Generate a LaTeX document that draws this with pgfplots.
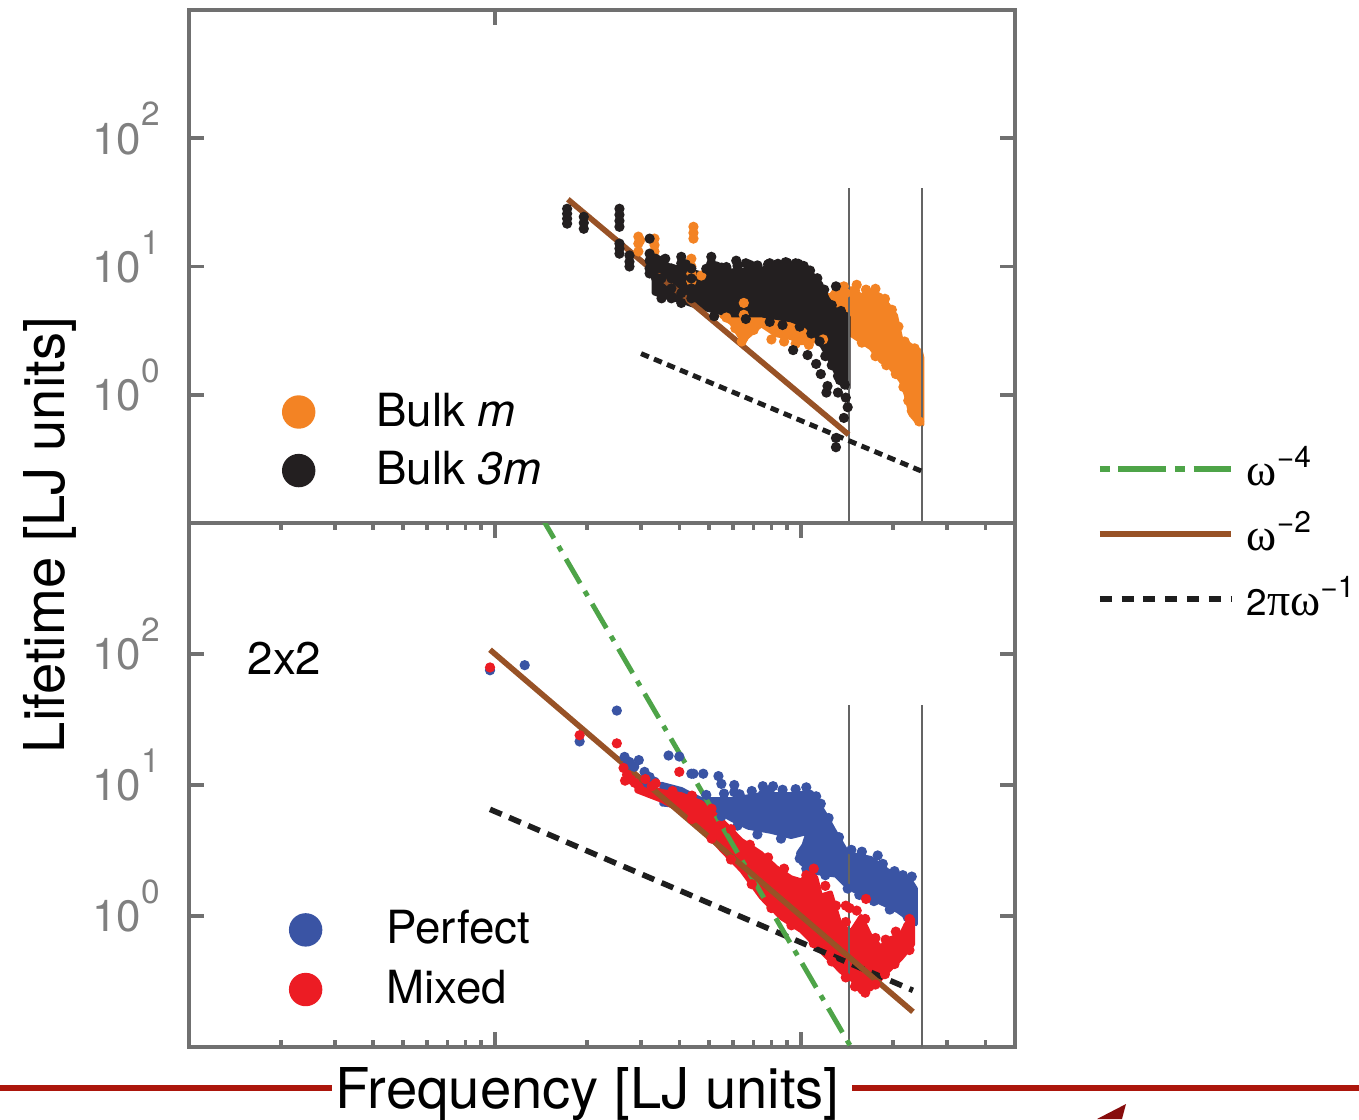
\documentclass[border=0pt]{standalone}
\usepackage{fontspec}
\setmainfont{TeX Gyre Heros}
\newfontfamily\grk{Liberation Serif}
\usepackage{pgfplots}
\pgfplotsset{compat=1.18}

\definecolor{axgray}{RGB}{112,112,112}
\definecolor{labgray}{RGB}{128,128,128}
\definecolor{vgray}{RGB}{100,100,100}
\definecolor{bulkm}{RGB}{243,131,36}
\definecolor{bulkthree}{RGB}{35,31,32}
\definecolor{perfect}{RGB}{58,84,164}
\definecolor{mixed}{RGB}{236,28,36}
\definecolor{brownline}{RGB}{152,82,38}
\definecolor{greenline}{RGB}{78,164,72}
\definecolor{dashblack}{RGB}{30,30,30}
\definecolor{barred}{RGB}{172,22,12}
\definecolor{tipred}{RGB}{135,12,12}

% tick label 10^n in text font
\newcommand{\tl}[1]{10\raisebox{8pt}{\fontsize{9.5}{10}\selectfont #1}}
\newcommand{\sx}[1]{\raisebox{5pt}{\fontsize{8.5}{9}\selectfont #1}}
\newcommand{\om}{{\grk\fontsize{13}{14}\selectfont ω}}
\newcommand{\pii}{{\grk\fontsize{13}{14}\selectfont π}}

\pgfplotsset{
  ptdots/.style={only marks, mark=*, mark size=1.25pt, color=#1, forget plot},
  ptcloud/.style={fill=#1, draw=#1, line width=1.2pt, line join=round, mark=none, forget plot},
  fitline/.style={line width=1.6pt, mark=none, forget plot},
}

\begin{document}
\begin{tikzpicture}

% ---------------- top panel: bulk ----------------
\begin{axis}[
  at={(1.89cm,-5.23cm)}, anchor=south west,
  xmode=log, ymode=log, scale only axis, width=8.26cm, height=5.13cm,
  xmin=0.1, xmax=50, ymin=0.1, ymax=1000,
  axis line style={axgray, line width=1.1pt},
  tick style={axgray, line width=1pt},
  major tick length=0.15cm, minor tick length=0.07cm,
  ytick={1,10,100}, yminorticks=false,
  yticklabels={\tl{0},\tl{1},\tl{2}},
  yticklabel style={font=\fontsize{12.5}{14}\selectfont, text=labgray,
    anchor=base east, yshift=-4.5pt, xshift=-0.17cm},
  xtick={1}, xminorticks=false, xtick pos=right, xticklabels={},
  legend cell align=left,
  legend image code/.code={\fill[#1] (0.16cm,0cm) circle (0.16cm);},
  legend style={at={(axis description cs:0.1126,0.254)}, anchor=north west,
    draw=none, fill=none, inner sep=0pt, outer sep=0pt, row sep=0.20cm,
    nodes={inner sep=0pt}, font=\fontsize{13}{15}\selectfont,
    /tikz/every odd column/.append style={column sep=0.61cm}},
]
\addlegendimage{bulkm}\addlegendentry{Bulk \textit{m}}
\addlegendimage{bulkthree}\addlegendentry{Bulk \textit{3m}}

% Bulk m
\addplot[ptcloud=bulkm] coordinates {
 (5.49,5.65) (10.0,6.18) (12.5,5.96) (13.0,6.75) (14.6,6.75) (15.7,5.96)
 (16.9,6.40) (18.2,5.96) (19.3,4.99) (20.4,4.17) (21.2,2.77) (22.8,2.44)
 (24.6,2.19) (24.9,1.94) (24.9,0.585) (23.7,0.629) (22.8,0.70) (22.0,1.0)
 (21.2,1.28) (19.6,1.62) (18.2,1.83) (16.9,2.31) (14.6,2.92) (13.0,3.02)
 (11.2,2.62) (10.0,2.53) (9.28,2.77) (8.29,2.92) (7.41,3.49) (6.62,2.77)
 (6.28,2.87) (5.92,3.61) (5.49,4.10)} -- cycle;
\addplot[ptdots=bulkm] coordinates {
 (2.94,17.1) (2.94,15.1) (2.94,13.1) (2.98,16.0)
 (3.32,16.5) (3.32,14.7) (3.32,13.1)
 (4.45,20.4) (4.45,18.3) (4.45,16.5)
 (4.38,11.5) (4.38,10.0) (4.38,8.8) (4.38,7.65) (4.72,8.5)
 (6.5,5.2) (6.5,4.2) (6.5,3.4) (6.5,2.8) (5.7,4.0) (6.1,3.3)
 (15.0,6.5) (14.0,6.2)
 (13.8,7.0) (15.2,7.2) (16.3,6.6) (17.5,6.7) (18.8,5.6) (19.8,4.6)
 (20.8,3.4) (21.8,2.6) (23.5,2.3) (24.3,0.62) (23.0,0.75) (22.4,0.9)
 (21.6,1.15) (20.4,1.45) (19.0,1.7) (17.5,2.0) (15.8,2.55)
 (8.0,2.7) (8.8,2.6) (9.6,2.5) (10.6,2.45) (11.8,2.7) (7.0,3.2) (6.4,2.6)};

% Bulk 3m
\addplot[ptcloud=bulkthree] coordinates {
 (3.3,10.9) (3.50,10.6) (4.06,9.65) (4.72,8.83) (5.92,9.31) (7.41,9.65)
 (9.28,10.0) (10.4,9.65) (10.9,8.67) (11.6,7.38) (12.2,5.65) (13.0,4.56)
 (14.1,4.24) (14.3,4.0) (14.3,1.13) (13.7,1.17) (13.0,1.48) (12.3,1.94)
 (11.8,2.31) (11.2,2.87) (10.4,3.43) (9.28,3.81) (7.41,4.17) (5.92,4.17)
 (4.72,4.72) (4.06,5.35) (3.50,5.9) (3.3,6.2)} -- cycle;
\addplot[ptdots=bulkthree] coordinates {
 (1.72,28.2) (1.72,25.8) (1.72,23.6) (1.72,21.6)
 (1.95,24.4) (1.95,21.9) (1.95,19.7)
 (2.55,28.2) (2.55,25.3) (2.55,22.7) (2.55,20.4) (2.55,15.1) (2.55,13.8) (2.55,12.6)
 (2.75,12.2) (2.75,10.9) (2.75,10.0)
 (3.20,16.5) (3.20,12.6) (3.20,11.1) (3.20,9.65) (3.20,8.83)
 (3.35,11.5) (3.35,9.6) (3.35,8.2)
 (3.50,11.1) (3.50,9.65) (3.50,8.07) (3.50,6.75) (3.50,5.65)
 (3.77,9.65) (3.77,8.07) (3.77,6.75) (3.77,5.65)
 (4.06,11.9) (4.06,10.6) (4.06,9.0) (4.06,7.4) (4.06,6.2) (4.06,5.2)
 (4.38,9.65) (4.38,8.07) (4.38,6.75) (4.38,5.65)
 (5.09,11.9) (5.09,10.6) (5.09,9.65) (6.14,11.1)
 (6.6,10.6) (8.9,10.8) (7.8,10.4) (9.8,10.5) (5.5,9.8) (13.0,7.0)
 (3.6,11.5) (4.2,10.4) (4.9,9.6) (5.3,10.0) (5.7,9.9) (6.2,10.1) (6.8,10.3)
 (7.2,10.2) (7.9,10.6) (8.4,10.5) (9.0,10.7) (9.6,10.6) (10.2,10.1)
 (10.7,9.3) (11.3,8.1) (11.9,6.6) (12.6,5.0) (13.5,4.5)
 (5.2,4.1) (6.6,3.9) (7.9,3.7) (8.7,3.5) (9.9,3.4) (10.8,3.0) (11.5,2.6)
 (12.0,2.0) (12.6,1.7) (13.4,1.3) (13.9,1.2)
 (9.42,2.23) (10.5,2.04) (11.2,1.74) (11.6,1.45) (12.2,1.17) (12.1,1.04)
 (13.2,1.40) (13.2,1.04) (13.0,0.46) (13.0,0.39) (14.0,0.95) (13.8,0.66) (14.2,0.8)};

\addplot[vgray, line width=0.6pt, forget plot] coordinates {(14.3,0.1) (14.3,41)};
\addplot[vgray, line width=0.6pt, forget plot] coordinates {(24.9,0.1) (24.9,41)};
\addplot[fitline, dashblack, line width=1.4pt, dash pattern=on 2.4pt off 1.6pt] coordinates {(3.0,2.094) (24.9,0.2523)};
\addplot[fitline, brownline] coordinates {(1.73,33.4) (14.3,0.489)};
\end{axis}

% ---------------- bottom panel: 2x2 ----------------
\begin{axis}[
  at={(1.89cm,-5.23cm)}, anchor=north west,
  xmode=log, ymode=log, scale only axis, width=8.26cm, height=5.24cm,
  xmin=0.1, xmax=50, ymin=0.1, ymax=1000,
  axis line style={axgray, line width=1.1pt},
  tick style={axgray, line width=1pt},
  major tick length=0.15cm, minor tick length=0.07cm,
  ytick={1,10,100}, yminorticks=false,
  yticklabels={\tl{0},\tl{1},\tl{2}},
  yticklabel style={font=\fontsize{12.5}{14}\selectfont, text=labgray,
    anchor=base east, yshift=-4.5pt, xshift=-0.17cm},
  xtick={0.1,1,10}, xticklabels={},
  minor xtick={0.2,0.3,0.4,0.5,0.6,0.7,0.8,0.9,2,3,4,5,6,7,8,9,20,30,40},
  legend cell align=left,
  legend image code/.code={\fill[#1] (0.16cm,0cm) circle (0.16cm);},
  legend style={at={(axis description cs:0.121,0.2605)}, anchor=north west,
    draw=none, fill=none, inner sep=0pt, outer sep=0pt, row sep=0.21cm,
    nodes={inner sep=0pt}, font=\fontsize{13}{15}\selectfont,
    /tikz/every odd column/.append style={column sep=0.64cm}},
]
\addlegendimage{perfect}\addlegendentry{Perfect}
\addlegendimage{mixed}\addlegendentry{Mixed}

% Perfect
\addplot[ptcloud=perfect] coordinates {
 (3.50,10.2) (4.06,9.31) (4.72,7.79) (5.92,7.79) (7.41,8.51) (9.28,8.51)
 (10.8,8.83) (11.9,6.18) (12.8,4.56) (14.2,3.02) (16.9,2.77) (19.2,2.23)
 (22.8,1.87) (23.7,1.62) (23.7,0.867) (20.7,1.09) (18.2,1.26) (16.5,1.38)
 (14.9,1.56) (13.8,1.77) (13.0,2.04) (11.0,2.15) (10.0,2.53) (9.78,3.02)
 (10.2,3.49) (10.5,4.32) (9.28,4.02) (7.98,4.40) (6.72,4.73) (5.92,5.45)
 (5.21,6.51) (4.72,6.88) (4.06,6.88) (3.50,7.12)} -- cycle;
\addplot[ptdots=perfect] coordinates {
 (0.963,75.2) (1.25,82.2) (1.89,21.5) (2.50,37)
 (2.65,16.4) (2.75,15.0) (2.85,13.8) (2.95,15.5) (2.70,14.2)
 (3.69,16.8) (4.00,16.5) (4.45,12.2) (4.79,12.2) (5.37,11.7) (4.38,12.2)
 (3.08,12.6) (3.20,11.5) (3.32,10.6) (3.15,10.4)
 (5.49,10.2) (6.05,10.0) (7.5,9.8) (8.1,9.8) (6.05,8.83) (7.5,8.5)
 (4.9,8.4) (5.6,8.6) (6.3,8.5) (6.9,9.0) (7.9,9.1) (8.7,9.2) (9.6,9.3)
 (10.4,9.6) (11.2,8.2) (11.6,7.2) (12.3,5.6) (13.3,4.0) (14.6,3.2)
 (15.8,3.1) (17.8,2.9) (18.5,2.5) (20.2,2.2) (21.5,2.05) (23.0,2.0)
 (22.3,0.98) (19.5,1.12) (17.3,1.3) (15.5,1.45) (14.2,1.62) (12.0,2.05)
 (10.4,2.3) (9.9,2.75) (8.6,3.9) (7.2,4.2) (6.2,4.9) (5.5,5.8)};

% Mixed
\addplot[ptcloud=mixed] coordinates {
 (2.9,10.5) (3.5,9.0) (4.06,8.5) (4.72,7.38) (5.49,5.45) (6.38,3.81)
 (7.41,3.02) (8.29,2.36) (9.28,1.97) (10.0,1.87) (10.8,2.15) (11.2,1.97)
 (11.6,1.43) (12.5,1.51) (13.5,0.837) (14.6,0.77) (15.7,1.0) (16.9,0.70)
 (18.2,0.585) (19.6,0.675) (21.2,0.725) (22.0,0.867) (23.2,0.948)
 (23.2,0.607) (21.2,0.472) (19.6,0.395) (18.2,0.331) (16.9,0.277)
 (15.7,0.262) (14.6,0.331) (13.5,0.375) (11.6,0.54) (10.0,0.77)
 (8.61,0.965) (7.41,1.38) (6.38,2.23) (5.49,3.19) (4.72,4.8) (4.06,6.3)
 (3.5,7.6) (2.9,9.0)} -- cycle;
\addplot[ptdots=mixed] coordinates {
 (0.963,79) (1.89,24.0) (2.50,20.8) (4.0,12.6)
 (2.63,13.5) (2.70,12.0) (2.78,11.0) (2.86,10.4) (2.66,10.8)
 (3.1,11.1) (3.25,9.8) (3.35,10.3)
 (16.3,1.35) (14.4,1.15) (14.0,1.2)
 (3.8,9.0) (4.4,8.3) (5.1,6.6) (5.9,4.6) (6.8,3.5) (7.8,2.8) (8.8,2.3)
 (10.4,2.05) (11.0,2.3) (12.0,1.7) (13.0,1.2) (14.0,0.9) (15.2,1.1)
 (16.2,0.95) (17.5,0.68) (18.9,0.66) (20.4,0.76) (22.6,0.95)
 (22.6,0.55) (20.2,0.43) (18.8,0.36) (17.5,0.3) (16.2,0.26) (15.0,0.29)
 (14.0,0.34) (12.6,0.45) (11.0,0.62) (9.3,0.85) (8.0,1.15) (6.9,1.75)
 (5.9,2.7) (5.1,3.9) (4.4,5.5)};

\addplot[vgray, line width=0.6pt, forget plot] coordinates {(14.3,0.1) (14.3,41)};
\addplot[vgray, line width=0.6pt, forget plot] coordinates {(24.9,0.1) (24.9,41)};
\addplot[fitline, dashblack, dash pattern=on 3.6pt off 2.3pt] coordinates {(0.963,6.525) (23.2,0.2708)};
\addplot[fitline, greenline, line width=1.4pt, dash pattern=on 8pt off 2.6pt on 1.6pt off 2.6pt] coordinates {(1.40,1171) (14.6,0.0988)};
\addplot[fitline, brownline] coordinates {(0.963,107.8) (23.2,0.1858)};
\end{axis}

% ---------------- legend of the fitted power laws ----------------
\begin{axis}[hide axis, scale only axis, width=8.26cm, height=5.24cm,
  at={(1.89cm,-5.23cm)}, anchor=north west, xmin=0, xmax=1, ymin=0, ymax=1,
  legend cell align=left,
  legend image code/.code={\draw[#1] (0cm,0cm) -- (1.31cm,0cm);},
  legend style={at={(axis description cs:1.099,1.146)}, anchor=north west,
    draw=none, fill=none, inner sep=0pt, outer sep=0pt, row sep=0.21cm,
    nodes={inner sep=0pt}, font=\fontsize{10.5}{12}\selectfont,
    /tikz/every odd column/.append style={column sep=0.13cm}},
]
\addlegendimage{greenline, line width=1.7pt, dash pattern=on 2.8pt off 2.5pt on 13.5pt off 2.6pt}
\addlegendentry{\om\sx{−4}}
\addlegendimage{brownline, line width=1.7pt}
\addlegendentry{\om\sx{−2}}
\addlegendimage{dashblack, line width=1.7pt, dash pattern=on 3.4pt off 2.8pt}
\addlegendentry{2\pii\om\sx{−1}}
\end{axis}

% labels
\node[anchor=base west, inner sep=0pt, font=\fontsize{13}{15}\selectfont] at (2.47cm,-6.74cm) {2x2};
\node[anchor=base, rotate=90, inner sep=0pt, font=\fontsize{16}{19}\selectfont] at (0.65cm,-5.35cm) {Lifetime [LJ units]};
\node[anchor=base, inner sep=0pt, font=\fontsize{16}{19}\selectfont] at (5.875cm,-11.08cm) {Frequency [LJ units]};

% red rule across the bottom of the figure
\draw[barred, line width=1.6pt] (0cm,-10.88cm) -- (3.32cm,-10.88cm);
\draw[barred, line width=1.6pt] (8.52cm,-10.88cm) -- (13.59cm,-10.88cm);
\fill[tipred] (10.97cm,-11.19cm) -- (11.26cm,-11.04cm) -- (11.22cm,-11.19cm) -- cycle;

\pgfresetboundingbox
\path[use as bounding box] (0cm,0cm) rectangle (13.59cm,-11.19cm);
\end{tikzpicture}
\end{document}
